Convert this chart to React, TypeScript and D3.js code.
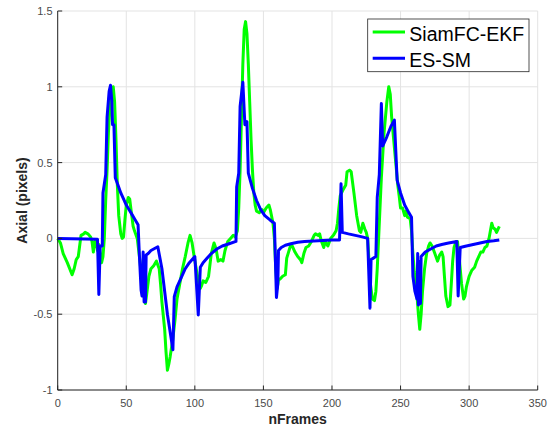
import React from "react";
import * as d3 from "d3";

const xTicks = [0, 50, 100, 150, 200, 250, 300, 350];
const yTicks = [-1, -0.5, 0, 0.5, 1, 1.5];
const seriesNames = ["SiamFC-EKF", "ES-SM"];

const greenX = [0,2,4,7,10.5,12,13.5,15,17,19,20,22,24,25,26,27,28,29,30,31,32,33,34,35,36,37,38,39,40.5,41.5,42.5,43.5,44.5,46,47,48,49,50,51.5,52.5,54,55,56,58,60,61.5,63,64,65,66.5,68,70,72,74,75,76,78,79,80,81,82,84,85.5,87,89,91,93,95,96.5,98,99.5,101,102,103,104,105,106,108,110,112,114,115.5,117,119,120.5,122,124,126,128,129.5,131,132,133,134,135,136,137,138,139,140,141,142,143,144,145,147,149,150,152,154,155,157,158,159,160,161,162,164,166,167,168,170,171,173,175,177,178,179.5,181,183,185,187,188,190,191,192,194,195,197,199,201,203,204,205,206,208,210,211,213,214,216,218,220,221,222.5,224,225,226,227,228,229.5,231,232,233,234,235,236,237,238,239,240,241.4,242.5,243.5,245,246.5,248,249,250,251.5,253,254,255,257,258,259,260,261,262,263,264,265,266,267.5,269,270.5,271.5,273,275,277,278.5,280,281,282,283,284.6,286,287,288,289,290.5,291.5,293,294.5,296,297,298,300,302,304,305.5,307,308.5,310,311.5,313,314.5,316.5,317.5,319,320,321,322];
const greenY = [0,-0.03,-0.1,-0.16,-0.24,-0.2,-0.14,-0.12,0.02,0.03,0.04,0.03,0.01,-0.02,-0.09,-0.02,-0.01,-0.08,-0.04,-0.1,-0.16,-0.12,0,0.25,0.45,0.7,0.85,0.95,1.0,0.9,0.65,0.35,0.15,0.03,0,0.01,0.12,0.22,0.27,0.26,0.15,0.08,0.05,0,-0.15,-0.3,-0.38,-0.43,-0.36,-0.25,-0.2,-0.18,-0.15,-0.2,-0.3,-0.42,-0.6,-0.75,-0.87,-0.83,-0.78,-0.66,-0.54,-0.4,-0.3,-0.2,-0.12,-0.03,0.02,-0.03,-0.12,-0.2,-0.25,-0.3,-0.33,-0.31,-0.28,-0.29,-0.25,-0.1,-0.03,-0.07,-0.15,-0.14,-0.15,-0.08,-0.02,0,0.02,0.01,0.05,0.2,0.45,0.8,1.15,1.38,1.43,1.35,1.15,0.9,0.65,0.45,0.3,0.22,0.18,0.17,0.19,0.17,0.2,0.22,0.19,0.1,0,-0.2,-0.33,-0.27,-0.27,-0.25,-0.24,-0.13,-0.1,-0.04,-0.05,-0.09,-0.12,-0.14,-0.16,-0.1,-0.06,-0.05,-0.02,0.02,0.03,0.02,0.03,-0.01,-0.06,-0.02,-0.05,0,0.02,0.05,0.1,0.2,0.28,0.32,0.35,0.44,0.45,0.44,0.3,0.15,0.05,0.04,0.1,0.06,0.04,0,-0.15,-0.3,-0.4,-0.41,-0.35,-0.2,0,0.2,0.4,0.55,0.7,0.8,0.9,1.0,0.95,0.8,0.65,0.5,0.35,0.28,0.2,0.2,0.15,0.18,0.14,0.13,0.05,-0.1,-0.22,-0.3,-0.38,-0.5,-0.6,-0.5,-0.35,-0.2,-0.1,-0.05,-0.03,-0.05,-0.1,-0.15,-0.11,-0.09,-0.12,-0.25,-0.38,-0.45,-0.44,-0.3,-0.15,-0.06,-0.02,-0.02,-0.15,-0.3,-0.4,-0.38,-0.32,-0.25,-0.21,-0.19,-0.15,-0.12,-0.09,-0.09,-0.06,-0.05,0,0.1,0.07,0.06,0.04,0.06,0.08];

const blueX = [0,10,20,29,30,31,32.5,33,35,36,37.5,38.5,39.5,40,41,42,44,46,48,50,52,54,56,58.6,59.5,60.8,61.5,62.3,63,63.5,64,64.5,66,68,70,73,76,80,84,85,87,90,93,96,100,101.5,102.5,104,106,109,112,116,120,125,130,130.5,132,133,135,136.5,138,139,142,145,148,151,155,158,159.5,160.5,161,163,166,170,175,180,190,200,205.5,206.6,207.5,212,217,222,226,227.7,228.5,232,233,234.5,236,237,240,243,245.5,247.5,250,253,256,258,259,260.5,262,262.5,263,263.5,264.5,265,268,272,276,280,285,291,292,293.5,298,303,308,313,318,322];
const blueY = [0,-0.002,-0.004,-0.005,-0.37,-0.05,-0.05,0.3,0.42,0.8,0.97,1.01,0.9,0.75,0.75,0.4,0.35,0.3,0.26,0.22,0.19,0.16,0.13,0.09,-0.1,-0.34,-0.38,-0.09,-0.42,-0.25,-0.42,-0.11,-0.1,-0.08,-0.07,-0.055,-0.2,-0.5,-0.735,-0.385,-0.32,-0.26,-0.2,-0.16,-0.12,-0.35,-0.505,-0.19,-0.16,-0.13,-0.1,-0.07,-0.05,-0.035,-0.02,0.34,0.43,0.87,1.03,0.75,0.77,0.43,0.33,0.25,0.19,0.15,0.12,0.1,-0.39,-0.3,-0.08,-0.06,-0.045,-0.035,-0.025,-0.02,-0.015,-0.01,-0.01,0.36,0.04,0.03,0.02,0.01,0,-0.46,-0.14,-0.12,0.27,0.42,0.89,0.61,0.67,0.74,0.78,0.385,0.3,0.22,0.17,0.14,-0.25,-0.35,-0.4,-0.1,-0.44,-0.15,-0.43,-0.12,-0.09,-0.07,-0.05,-0.04,-0.03,-0.02,-0.38,-0.06,-0.05,-0.04,-0.03,-0.02,-0.015,-0.01];

const W = 555, H = 433;
const L = 57.7, R = 537.7, T = 11, B = 390;

export default function App() {
  const x = d3.scaleLinear().domain([0, 350]).range([L, R]);
  const y = d3.scaleLinear().domain([-1, 1.5]).range([B, T]);
  const line = d3.line<[number, number]>().x(d => x(d[0])).y(d => y(d[1]));
  const green = greenX.map((v, i) => [v, greenY[i]] as [number, number]);
  const blue = blueX.map((v, i) => [v, blueY[i]] as [number, number]);
  const txt = "#262626";
  const font = "'Liberation Sans', Arial, Helvetica, sans-serif";
  return (
    <svg width={W} height={H} style={{ position: "absolute", left: 0, top: 0, background: "#fff" }} fontFamily={font}>
      {xTicks.map(t => (
        <line key={"gx" + t} x1={x(t)} x2={x(t)} y1={T} y2={B} stroke="#e3e3e3" strokeWidth={1} />
      ))}
      {yTicks.map(t => (
        <line key={"gy" + t} x1={L} x2={R} y1={y(t)} y2={y(t)} stroke="#e3e3e3" strokeWidth={1} />
      ))}
      <path d={line(green) || ""} fill="none" stroke="#00ff00" strokeWidth={3} strokeLinejoin="round" />
      <path d={line(blue) || ""} fill="none" stroke="#0000ff" strokeWidth={3} strokeLinejoin="round" />
      <line x1={L} x2={L} y1={T} y2={B} stroke={txt} strokeWidth={1} />
      <line x1={L} x2={R} y1={B} y2={B} stroke={txt} strokeWidth={1} />
      {xTicks.map(t => (
        <g key={"tx" + t}>
          <line x1={x(t)} x2={x(t)} y1={B} y2={B - 4.5} stroke={txt} strokeWidth={1} />
          <text x={x(t)} y={407} textAnchor="middle" fontSize={11} fill="#4a4a4a">{t}</text>
        </g>
      ))}
      {yTicks.map(t => (
        <g key={"ty" + t}>
          <line x1={L} x2={L + 4.5} y1={y(t)} y2={y(t)} stroke={txt} strokeWidth={1} />
          <text x={52.5} y={y(t) + 4} textAnchor="end" fontSize={11} fill="#4a4a4a">{t}</text>
        </g>
      ))}
      <text x={(L + R) / 2} y={423.5} textAnchor="middle" fontSize={14} fontWeight="bold" fill={txt}>nFrames</text>
      <text transform={`translate(26.5,${(T + B) / 2}) rotate(-90)`} textAnchor="middle" fontSize={14} fontWeight="bold" fill={txt}>Axial (pixels)</text>
      <rect x={367.7} y={19} width={161.3} height={52.7} fill="#fff" stroke={txt} strokeWidth={0.8} />
      <line x1={372.7} x2={405} y1={32} y2={32} stroke="#00ff00" strokeWidth={3} />
      <line x1={372.7} x2={405} y1={58.3} y2={58.3} stroke="#0000ff" strokeWidth={3} />
      <text x={409.3} y={41} fontSize={19.5} fill="#000">{seriesNames[0]}</text>
      <text x={409.3} y={66.7} fontSize={19.5} fill="#000">{seriesNames[1]}</text>
    </svg>
  );
}
